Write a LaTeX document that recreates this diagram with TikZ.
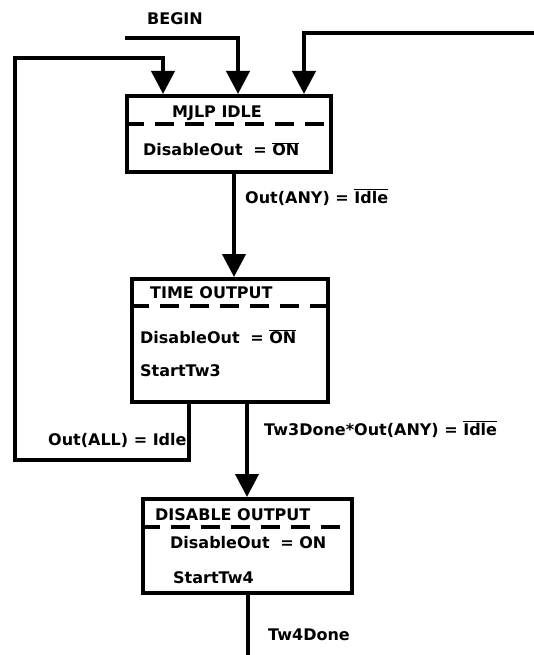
\documentclass[tikz,border=0pt]{standalone}
\usepackage{fontspec}
\setmainfont{DejaVu Sans}
\usetikzlibrary{arrows.meta}

\newcommand{\negbar}[1]{$\overline{\hbox{#1}}$}

\begin{document}
\begin{tikzpicture}[x=1pt, y=-1pt,
	every node/.style={font=\fontsize{16}{19}\selectfont\bfseries, inner sep=0pt},
	statebox/.style={draw, line width=4pt, minimum width=#1, minimum height=1pt},
	line/.style={line width=4pt},
	flow/.style={line width=4pt, -{Triangle[width=23pt, length=23pt]}},
	sepline/.style={line width=4.5pt, dash pattern=on 19pt off 11pt}]
	\useasboundingbox (0,0) rectangle (534,655);

	% state boxes
	\node[statebox=204pt, minimum height=76pt] (idle) at (229,134) {};
	\node[statebox=196pt, minimum height=123pt] (timeout) at (230,340.5) {};
	\node[statebox=209pt, minimum height=94pt] (disout) at (247.5,546) {};

	% separators
	\draw[sepline] (idle.west |- 0,124) -- (idle.east |- 0,124);
	\draw[sepline] (timeout.west |- 0,306) -- (timeout.east |- 0,306);
	\draw[sepline] (disout.west |- 0,527) -- (disout.east |- 0,527);

	% box texts
	\node[anchor=base] (tidle) at (217,118) {MJLP IDLE};
	\node[anchor=base west] (tidleA) at (143,156) {DisableOut\hspace{5pt} = \negbar{ON}};
	\node[anchor=base west] (ttime) at (150,298) {TIME OUTPUT};
	\node[anchor=base west] (ttimeA) at (140,343) {DisableOut\hspace{5pt} = \negbar{ON}};
	\node[anchor=base west] (ttimeB) at (140,376) {StartTw3};
	\node[anchor=base west] (tdis) at (155,520) {DISABLE OUTPUT};
	\node[anchor=base west] (tdisA) at (170,548) {DisableOut\hspace{5pt} = ON};
	\node[anchor=base west] (tdisB) at (173,583) {StartTw4};

	% entries
	\coordinate (beginpt) at (125,38);
	\coordinate (rightin) at (540,33);
	\node[anchor=base] (lbegin) at (175,25) {BEGIN};
	\draw[flow] (beginpt) -| (idle.north -| 238,0);
	\draw[flow] (rightin) -| (idle.north -| 304,0);

	% return loop
	\draw[flow] (timeout.south -| 189,0) |- (15,460) |- (163,58) -- (idle.north -| 163,0);
	\node[anchor=base west] (lall) at (48,445) {Out(ALL) = Idle};

	% transitions
	\draw[flow] (idle.south -| 234,0) -- (timeout.north -| 234,0);
	\node[anchor=base west] (lany) at (245,203) {Out(ANY) = \negbar{Idle}};
	\draw[flow] (timeout.south -| 247,0) -- (disout.north -| 247,0);
	\node[anchor=base west] (ltw3) at (264,435) {Tw3Done*Out(ANY) = \negbar{Idle}};
	\coordinate (exitpt) at (248,660);
	\draw[line] (disout.south -| 248,0) -- (exitpt);
	\node[anchor=base west] (ltw4) at (268,640) {Tw4Done};
\end{tikzpicture}
\end{document}
